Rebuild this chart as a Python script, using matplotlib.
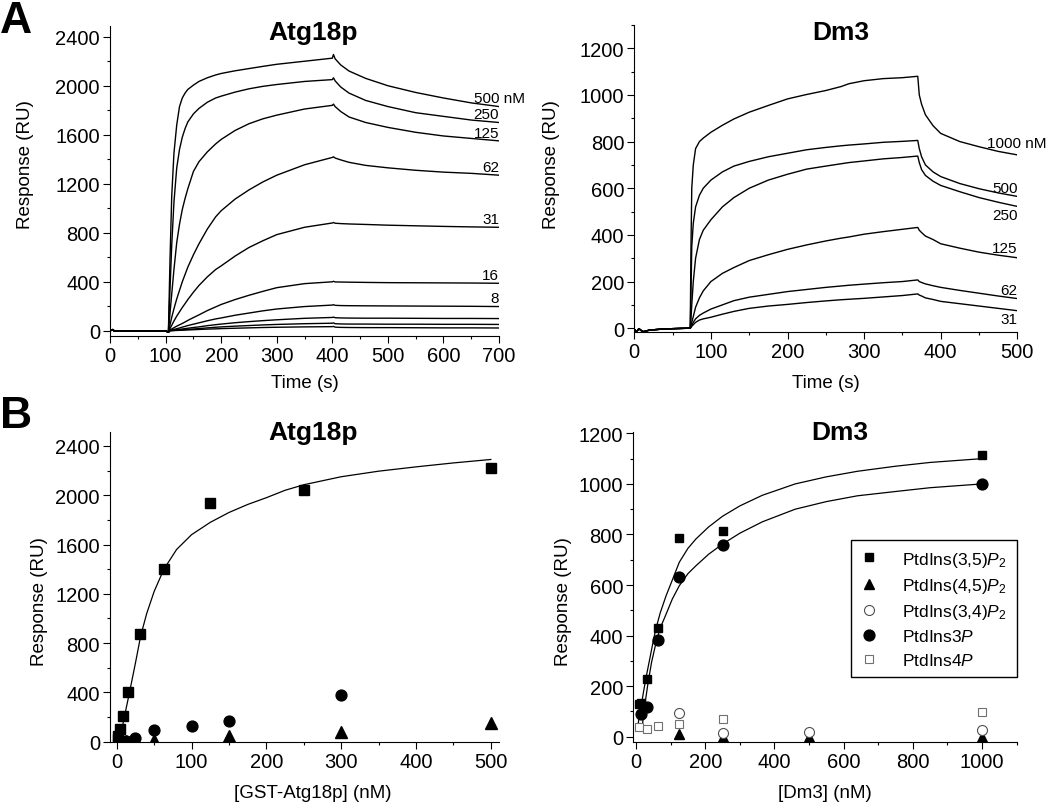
import matplotlib
matplotlib.use("Agg")
import matplotlib.pyplot as plt
from matplotlib.ticker import MultipleLocator

plt.rcParams['font.family'] = ['Liberation Sans', 'DejaVu Sans']
plt.rcParams['mathtext.fontset'] = 'custom'
plt.rcParams['mathtext.rm'] = 'Liberation Sans'
plt.rcParams['mathtext.it'] = 'Liberation Sans:italic'
plt.rcParams['mathtext.bf'] = 'Liberation Sans:bold'

# ---- A, left: Atg18p sensorgrams (time in s, response in RU) ----
T_ATG = [0, 5, 8, 50, 100, 105,
         108, 111, 115, 120, 125, 130, 135, 140, 150, 160, 175, 190, 200, 225, 250, 275, 300, 350, 400,
         402, 405, 415, 430, 460, 500, 550, 600, 650, 700]
ATG_CONC = ["500 nM", "250", "125", "62", "31", "16", "8", "", "", ""]
ATG_500 = [0, 10, -3, 0, 0, -12,
           600, 1100, 1450, 1680, 1830, 1900, 1940, 1970, 2005, 2035, 2065, 2088, 2100, 2122, 2140, 2158, 2175, 2200, 2225,
           2255, 2220, 2170, 2120, 2060, 2000, 1945, 1900, 1860, 1830]
ATG_250 = [0, 10, -3, 0, 0, -12,
           350, 700, 1050, 1330, 1480, 1580, 1650, 1705, 1770, 1815, 1865, 1900, 1915, 1948, 1975, 1995, 2010, 2035, 2050,
           2065, 2040, 1990, 1940, 1880, 1830, 1780, 1750, 1720, 1700]
ATG_125 = [0, 10, -3, 0, 0, -12,
           150, 300, 500, 720, 870, 990, 1080, 1160, 1300, 1380, 1460, 1525, 1562, 1635, 1690, 1730, 1760, 1810, 1840,
           1850, 1830, 1790, 1745, 1700, 1660, 1620, 1590, 1570, 1550]
ATG_62 = [0, 10, -3, 0, 0, -12,
          50, 110, 180, 260, 330, 400, 460, 520, 620, 710, 830, 930, 980, 1075, 1150, 1215, 1270, 1355, 1415,
          1420, 1410, 1395, 1375, 1350, 1330, 1310, 1295, 1285, 1270]
ATG_31 = [0, 10, -3, 0, 0, -12,
          20, 45, 80, 120, 155, 190, 222, 255, 315, 370, 440, 500, 530, 610, 680, 735, 785, 845, 880,
          884, 878, 875, 872, 868, 862, 857, 852, 848, 845]
ATG_16 = [0, 10, -3, 0, 0, -12,
          8, 15, 25, 38, 49, 60, 72, 85, 108, 130, 165, 195, 215, 255, 290, 322, 352, 385, 400,
          404, 399, 398, 397, 395, 393, 392, 391, 390, 388]
ATG_8 = [0, 10, -3, 0, 0, -12,
         4, 7, 11, 17, 23, 30, 36, 43, 54, 65, 82, 97, 105, 127, 145, 163, 178, 198, 210,
         213, 208, 206, 205, 204, 203, 202, 201, 200, 198]
ATG_4 = [0, 10, -3, 0, 0, -12,
         2, 4, 6, 9, 12, 15, 18, 21, 27, 32, 42, 50, 55, 66, 75, 83, 90, 102, 109,
         112, 107, 105, 104, 103, 103, 102, 101, 101, 100]
ATG_2 = [0, 10, -3, 0, 0, -12,
         1, 2, 3, 5, 6, 8, 10, 12, 15, 18, 24, 29, 32, 38, 43, 48, 52, 58, 62,
         65, 58, 56, 55, 55, 54, 54, 53, 53, 52]
ATG_1 = [0, 10, -3, 0, 0, -12,
         1, 1, 2, 3, 4, 5, 6, 7, 9, 11, 14, 16, 18, 21, 24, 27, 29, 32, 34,
         36, 30, 28, 27, 26, 26, 25, 24, 24, 23]

# ---- A, right: Dm3 sensorgrams ----
T_DM3 = [0, 3, 6, 9, 12, 20, 40, 60, 73, 74, 75, 77, 80, 85, 90, 100,
         115, 130, 150, 175, 200, 225, 250, 270, 280, 300, 325, 350, 370,
         372, 375, 380, 390, 400, 425, 450, 475, 500]
DM3_CONC = ["1000 nM", "500", "250", "125", "62", "31"]
DM3_1000 = [-5, -15, -2, -10, -15, -8, -3, -1, 0, 350, 600, 700, 770, 800, 815, 840,
            870, 897, 926, 955, 983, 1002, 1019, 1036, 1048, 1061, 1070, 1074, 1080,
            1000, 960, 915, 868, 835, 800, 778, 758, 743]
DM3_500 = [-5, -15, -2, -10, -15, -8, -3, -1, 0, 150, 350, 450, 520, 570, 600, 635,
           670, 695, 715, 735, 750, 765, 775, 782, 785, 790, 797, 801, 805,
           770, 735, 700, 670, 650, 620, 598, 580, 565]
DM3_250 = [-5, -15, -2, -10, -15, -8, -3, -1, 0, 40, 100, 200, 300, 380, 420, 465,
           520, 560, 600, 635, 660, 682, 695, 705, 710, 717, 726, 732, 738,
           710, 680, 655, 630, 612, 585, 560, 540, 522]
DM3_125 = [-5, -15, -2, -10, -15, -8, -3, -1, 0, 10, 25, 50, 90, 130, 160, 200,
           235, 260, 290, 315, 338, 357, 374, 386, 391, 403, 414, 424, 432,
           420, 410, 395, 380, 362, 343, 326, 313, 302]
DM3_62 = [-5, -15, -2, -10, -15, -8, -3, -1, 0, 5, 12, 25, 40, 55, 65, 82,
          100, 118, 133, 145, 157, 166, 175, 181, 184, 189, 195, 200, 207,
          200, 196, 190, 182, 175, 162, 150, 138, 127]
DM3_31 = [-5, -15, -2, -10, -15, -8, -3, -1, 0, 3, 8, 15, 25, 35, 40, 47,
          60, 72, 85, 95, 102, 110, 117, 122, 124, 128, 134, 140, 147,
          142, 138, 130, 123, 115, 105, 95, 85, 75]

# ---- B, left: Atg18p response vs concentration ----
ATG_X35 = [0.98, 1.95, 3.9, 7.8, 15.6, 31.25, 62.5, 125, 250, 500]
ATG_Y35 = [25, 50, 105, 205, 400, 875, 1405, 1940, 2045, 2220]
ATG_X3P = [6.25, 12.5, 25, 50, 100, 150, 300]
ATG_Y3P = [5, 8, 30, 95, 130, 165, 380]
ATG_X45 = [12.5, 50, 150, 300, 500]
ATG_Y45 = [3, 15, 50, 75, 148]
ATG_FIT_X = [4.5, 9, 12, 17, 25, 32, 40, 50, 63, 80, 100, 125, 150, 175, 200, 225, 250,
             300, 350, 400, 450, 500]
ATG_FIT_Y = [0, 170, 255, 400, 640, 860, 1040, 1220, 1400, 1560, 1680, 1780, 1860, 1925, 1980,
             2040, 2085, 2150, 2195, 2230, 2262, 2290]

# ---- B, right: Dm3 ----
DM3_X35 = [7.8, 15.6, 31.25, 62.5, 125, 250, 1000]
DM3_Y35 = [130, 132, 230, 430, 785, 815, 1115]
DM3_X45 = [125, 250, 500, 1000]
DM3_Y45 = [10, 0, 0, 0]
DM3_X34 = [125, 250, 500, 1000]
DM3_Y34 = [92, 15, 17, 28]
DM3_X3P = [15.6, 31.25, 62.5, 125, 250, 1000]
DM3_Y3P = [88, 116, 383, 630, 757, 1000]
DM3_X4P = [7.8, 31.25, 62.5, 125, 250, 1000]
DM3_Y4P = [38, 30, 41, 52, 68, 99]
DM3_FIT35_X = [5, 10, 15, 22, 30, 40, 50, 58, 70, 87, 105, 125, 150, 173, 210, 250,
               300, 365, 460, 550, 640, 750, 850, 1000]
DM3_FIT35_Y = [40, 85, 123, 180, 241, 310, 380, 430, 490, 558, 620, 690, 745, 782, 830, 872,
               913, 955, 1000, 1028, 1050, 1070, 1085, 1100]
DM3_FIT3P_X = [18, 22, 28, 35, 45, 58, 70, 87, 105, 125, 150, 173, 210, 250, 300, 365,
               460, 550, 640, 750, 850, 1000]
DM3_FIT3P_Y = [40, 90, 150, 215, 295, 373, 430, 485, 545, 597, 645, 676, 722, 762, 805, 850,
               900, 930, 953, 970, 985, 1000]

LEGEND_LABELS = [r"PtdIns(3,5)$\mathit{P}_2$", r"PtdIns(4,5)$\mathit{P}_2$",
                 r"PtdIns(3,4)$\mathit{P}_2$", r"PtdIns3$\mathit{P}$", r"PtdIns4$\mathit{P}$"]

TICK_FS = 14.5
LABEL_FS = 13.5
TITLE_FS = 19
CONC_FS = 11


def style_axes(ax, xlim, ylim, xmaj, xmin, ymaj, ymin):
    ax.set_xlim(*xlim)
    ax.set_ylim(*ylim)
    ax.xaxis.set_major_locator(MultipleLocator(xmaj))
    ax.xaxis.set_minor_locator(MultipleLocator(xmin))
    ax.yaxis.set_major_locator(MultipleLocator(ymaj))
    ax.yaxis.set_minor_locator(MultipleLocator(ymin))
    for s in ("top", "right"):
        ax.spines[s].set_visible(False)
    for s in ("left", "bottom"):
        ax.spines[s].set_linewidth(0.8)
    ax.tick_params(which="both", direction="out", width=0.8, labelsize=TICK_FS, pad=2.5)
    ax.tick_params(which="major", length=4.8)
    ax.tick_params(which="minor", length=2.5)


def add_title(ax, text, x, y):
    ax.text(x, y, text, transform=ax.transAxes, ha="center", va="baseline",
            fontsize=TITLE_FS, fontweight="bold")


fig = plt.figure(figsize=(10.5, 8.04), dpi=100)
ax_a1 = fig.add_axes([0.1048, 0.5812, 0.3705, 0.3856])
ax_a2 = fig.add_axes([0.6041, 0.5862, 0.3648, 0.3815])
ax_b1 = fig.add_axes([0.1048, 0.0762, 0.3705, 0.3848])
ax_b2 = fig.add_axes([0.6031, 0.0762, 0.3651, 0.3848])

# A left
atg_curves = [ATG_500, ATG_250, ATG_125, ATG_62, ATG_31, ATG_16, ATG_8, ATG_4, ATG_2, ATG_1]
for lab, ys in zip(ATG_CONC, atg_curves):
    ax_a1.plot(T_ATG, ys, color="black", lw=1.0)
    if lab.endswith("nM"):
        ax_a1.text(655, ys[-1] + 40, lab, fontsize=CONC_FS, ha="left", va="baseline", clip_on=False)
    elif lab:
        ax_a1.text(700, ys[-1] + 35, lab, fontsize=CONC_FS, ha="right", va="baseline")
style_axes(ax_a1, (0, 700), (-40, 2490), 100, 50, 400, 200)
ax_a1.set_xlabel("Time (s)", fontsize=LABEL_FS)
ax_a1.set_ylabel("Response (RU)", fontsize=LABEL_FS)
ax_a1.xaxis.set_label_coords(0.5, -0.125)
ax_a1.yaxis.set_label_coords(-0.195, 0.554)
add_title(ax_a1, "Atg18p", 0.522, 0.957)

# A right
dm3_curves = [DM3_1000, DM3_500, DM3_250, DM3_125, DM3_62, DM3_31]
dm3_offsets = [32, 20, -54, 24, 20, -54]
for lab, ys, off in zip(DM3_CONC, dm3_curves, dm3_offsets):
    ax_a2.plot(T_DM3, ys, color="black", lw=1.0)
    if lab.endswith("nM"):
        ax_a2.text(460, ys[-1] + off, lab, fontsize=CONC_FS, ha="left", va="baseline", clip_on=False)
    else:
        ax_a2.text(500, ys[-1] + off, lab, fontsize=CONC_FS, ha="right", va="baseline")
style_axes(ax_a2, (0, 500), (-15, 1300), 100, 50, 200, 100)
ax_a2.set_xlabel("Time (s)", fontsize=LABEL_FS)
ax_a2.set_ylabel("Response (RU)", fontsize=LABEL_FS)
ax_a2.xaxis.set_label_coords(0.5, -0.138)
ax_a2.yaxis.set_label_coords(-0.194, 0.547)
add_title(ax_a2, "Dm3", 0.538, 0.954)

# B left
ax_b1.plot(ATG_FIT_X, ATG_FIT_Y, color="black", lw=0.9)
ax_b1.plot(ATG_X35, ATG_Y35, ls="none", marker="s", ms=6.8, color="black")
ax_b1.plot(ATG_X45, ATG_Y45, ls="none", marker="^", ms=8.0, color="black")
ax_b1.plot(ATG_X3P, ATG_Y3P, ls="none", marker="o", ms=7.8, color="black")
style_axes(ax_b1, (-9, 511), (0, 2510), 100, 50, 400, 200)
ax_b1.set_xlabel("[GST-Atg18p] (nM)", fontsize=LABEL_FS)
ax_b1.set_ylabel("Response (RU)", fontsize=LABEL_FS)
ax_b1.xaxis.set_label_coords(0.52, -0.137)
ax_b1.yaxis.set_label_coords(-0.159, 0.456)
add_title(ax_b1, "Atg18p", 0.522, 0.978)

# B right
ax_b2.plot(DM3_FIT35_X, DM3_FIT35_Y, color="black", lw=0.9)
ax_b2.plot(DM3_FIT3P_X, DM3_FIT3P_Y, color="black", lw=0.9)
h35, = ax_b2.plot(DM3_X35, DM3_Y35, ls="none", marker="s", ms=6.4, color="black", zorder=3)
h45, = ax_b2.plot(DM3_X45, DM3_Y45, ls="none", marker="^", ms=7.6, color="black", zorder=3)
h34, = ax_b2.plot(DM3_X34, DM3_Y34, ls="none", marker="o", ms=7.2, mfc="white", mec="#505050",
                  mew=0.8, zorder=4)
h3p, = ax_b2.plot(DM3_X3P, DM3_Y3P, ls="none", marker="o", ms=7.8, color="black", zorder=3)
h4p, = ax_b2.plot(DM3_X4P, DM3_Y4P, ls="none", marker="s", ms=6.2, mfc="white", mec="#707070",
                  mew=0.8, zorder=4)
style_axes(ax_b2, (-8, 1100), (-20, 1204), 200, 100, 200, 100)
ax_b2.set_xlabel("[Dm3] (nM)", fontsize=LABEL_FS)
ax_b2.set_ylabel("Response (RU)", fontsize=LABEL_FS)
ax_b2.xaxis.set_label_coords(0.5, -0.137)
ax_b2.yaxis.set_label_coords(-0.161, 0.456)
add_title(ax_b2, "Dm3", 0.540, 0.978)
leg = ax_b2.legend([h35, h45, h34, h3p, h4p], LEGEND_LABELS, loc="upper right",
                   bbox_to_anchor=(1.0, 0.652), borderaxespad=0, fontsize=12.5,
                   frameon=True, fancybox=False, framealpha=1, edgecolor="black",
                   handlelength=0.9, handletextpad=1.5, labelspacing=0.42, borderpad=0.55)
leg.get_frame().set_linewidth(1.0)

# panel letters
fig.text(0.0, 0.9586, "A", fontsize=32, fontweight="bold", ha="left", va="baseline")
fig.text(0.0, 0.4673, "B", fontsize=32, fontweight="bold", ha="left", va="baseline")

fig.savefig("out.png", dpi=100)
